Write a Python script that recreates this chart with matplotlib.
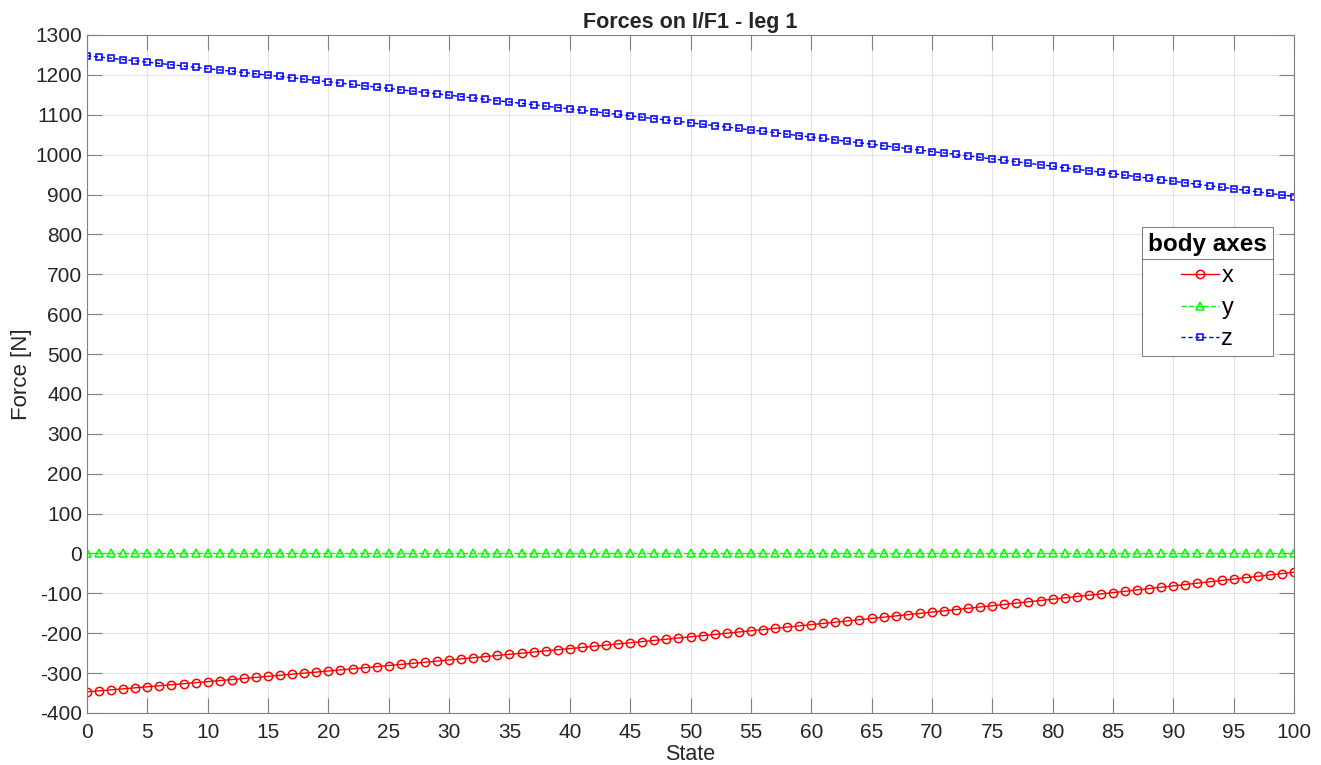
import matplotlib
matplotlib.use("Agg")
import matplotlib.pyplot as plt
from matplotlib.lines import Line2D

plt.rcParams['font.family'] = ['Liberation Sans', 'DejaVu Sans']
plt.rcParams['axes.unicode_minus'] = False

states = list(range(0, 101))

force_x = [-347.0, -344.5, -341.9, -339.4, -336.8, -334.3, -331.7, -329.1, -326.5, -323.9,
           -321.3, -318.7, -316.1, -313.4, -310.8, -308.1, -305.5, -302.8, -300.1, -297.4,
           -294.7, -292.0, -289.2, -286.5, -283.8, -281.0, -278.2, -275.5, -272.7, -269.9,
           -267.1, -264.3, -261.4, -258.6, -255.8, -252.9, -250.1, -247.2, -244.3, -241.4,
           -238.5, -235.6, -232.7, -229.8, -226.8, -223.9, -220.9, -218.0, -215.0, -212.0,
           -209.0, -206.0, -203.0, -200.0, -196.9, -193.9, -190.8, -187.8, -184.7, -181.6,
           -178.5, -175.4, -172.3, -169.2, -166.1, -162.9, -159.8, -156.6, -153.4, -150.3,
           -147.1, -143.9, -140.7, -137.5, -134.2, -131.0, -127.8, -124.5, -121.2, -118.0,
           -114.7, -111.4, -108.1, -104.8, -101.5, -98.1, -94.8, -91.4, -88.1, -84.7,
           -81.3, -77.9, -74.5, -71.1, -67.7, -64.3, -60.8, -57.4, -53.9, -50.5, -47.0]

force_y = [0.0] * 101

force_z = [1248.0, 1244.8, 1241.6, 1238.4, 1235.1, 1231.9, 1228.7, 1225.4, 1222.2, 1218.9,
           1215.7, 1212.4, 1209.1, 1205.8, 1202.6, 1199.3, 1196.0, 1192.6, 1189.3, 1186.0,
           1182.7, 1179.3, 1176.0, 1172.7, 1169.3, 1165.9, 1162.6, 1159.2, 1155.8, 1152.4,
           1149.0, 1145.6, 1142.2, 1138.8, 1135.4, 1132.0, 1128.5, 1125.1, 1121.6, 1118.2,
           1114.7, 1111.3, 1107.8, 1104.3, 1100.8, 1097.3, 1093.8, 1090.3, 1086.8, 1083.3,
           1079.8, 1076.2, 1072.7, 1069.1, 1065.6, 1062.0, 1058.5, 1054.9, 1051.3, 1047.7,
           1044.1, 1040.5, 1036.9, 1033.3, 1029.7, 1026.1, 1022.4, 1018.8, 1015.1, 1011.5,
           1007.8, 1004.2, 1000.5, 996.8, 993.1, 989.4, 985.7, 982.0, 978.3, 974.6,
           970.9, 967.1, 963.4, 959.7, 955.9, 952.2, 948.4, 944.6, 940.8, 937.1,
           933.3, 929.5, 925.7, 921.9, 918.0, 914.2, 910.4, 906.6, 902.7, 898.9, 895.0]

x_ticks = list(range(0, 101, 5))
y_ticks = list(range(-400, 1301, 100))

W, H = 1321, 765
fig = plt.figure(figsize=(W / 100, H / 100), dpi=100)
ax = fig.add_axes([87 / W, 1 - 713 / H, (1294 - 87) / W, (713 - 35) / H])

ax.plot(states, force_x, color='#ff0000', linestyle='-', linewidth=1.0,
        marker='o', markersize=6, markerfacecolor='none', markeredgewidth=1.1, label='x')
ax.plot(states, force_y, color='#00ff00', linestyle='--', linewidth=1.0,
        marker='^', markersize=6, markerfacecolor='none', markeredgewidth=1.1, label='y')
ax.plot(states, force_z, color='#0000ff', linestyle=(0, (3, 2)), linewidth=1.0,
        marker='s', markersize=5, markerfacecolor='none', markeredgewidth=1.1, label='z')

ax.set_xlim(0, 100)
ax.set_ylim(-400, 1300)
ax.set_xticks(x_ticks)
ax.set_yticks(y_ticks)
ax.grid(True, color='#e3e3e3', linewidth=0.8)
ax.set_axisbelow(True)
ax.tick_params(direction='in', top=True, right=True, length=11, width=0.8,
               color='#808080', labelsize=15, labelcolor='#262626')
ax.tick_params(axis='x', pad=7)
ax.tick_params(axis='y', pad=3.5)
for s in ax.spines.values():
    s.set_color('#808080')
    s.set_linewidth(0.8)

ax.set_title('Forces on I/F1 - leg 1', fontsize=15.5, fontweight='bold', color='#262626', pad=5)
ax.set_xlabel('State', fontsize=15.5, color='#262626', labelpad=1.5)
ax.set_ylabel('Force [N]', fontsize=16, color='#262626', labelpad=2)

leg = ax.legend(loc='upper left', bbox_to_anchor=(1142 / W, 1 - 227 / H),
                bbox_transform=fig.transFigure, title='body axes',
                title_fontproperties={'weight': 'bold', 'size': 17.5},
                fontsize=17, frameon=True, fancybox=False, framealpha=1,
                edgecolor='#808080', handlelength=1.6, handletextpad=0.1,
                borderpad=0.25, labelspacing=0.4, borderaxespad=0)
leg.get_frame().set_linewidth(0.8)
leg._legend_box.align = 'center'

fig.canvas.draw()
bb = leg.get_window_extent()
tb = leg.get_title().get_window_extent()
ysep = tb.y0 - 3
fig.add_artist(Line2D([bb.x0 / W, bb.x1 / W], [ysep / H, ysep / H],
                      transform=fig.transFigure, color='#808080', linewidth=0.8))

fig.savefig('out.png', dpi=100)
